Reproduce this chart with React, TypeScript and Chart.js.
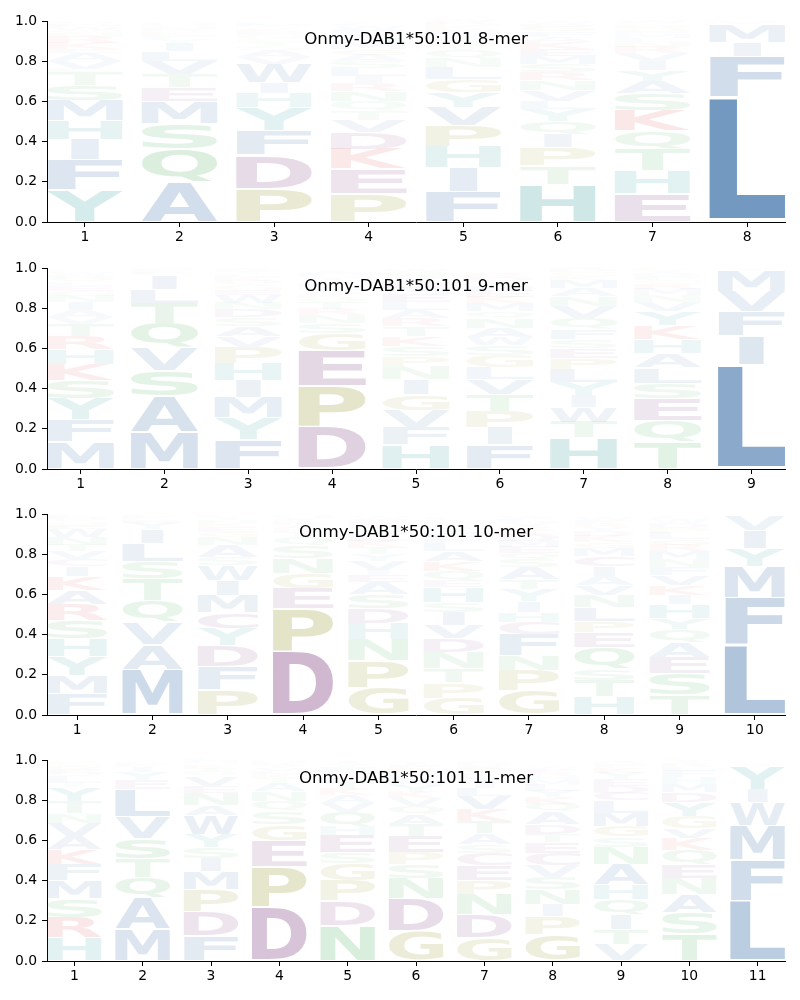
import React, { useEffect, useRef } from 'react';
import { Chart, registerables } from 'chart.js';

Chart.register(...registerables);

// ---------- data (letters listed bottom-to-top per position) ----------
const title8 = 'Onmy-DAB1*50:101 8-mer';
const letters8 = [
  'YFIHMSTLVAEKRNGWDPQC',
  'AQSMETVLIYFKRNGHDWPC',
  'PDFYHIWVASTGNEKQMLRC',
  'PEKDVTQNRILSAGMHYFWC',
  'FIHPVYGLNQTSAMEKDRW',
  'HTPIQYLVNRSMEKAFGDW',
  'EHTQKSAYIVRNLMFGDPW',
  'LFIMVY',
];
const heights8 = [
  [0.16, 0.15, 0.10, 0.095, 0.10, 0.075, 0.065, 0.015, 0.04, 0.04, 0.02, 0.03, 0.03, 0.02, 0.015, 0.015, 0.01, 0.01, 0.01, 0.005],
  [0.20, 0.163, 0.127, 0.11, 0.068, 0.068, 0.064, 0.05, 0.04, 0.02, 0.02, 0.015, 0.01, 0.01, 0.01, 0.01, 0.005, 0.005, 0.005, 0.005],
  [0.167, 0.166, 0.124, 0.112, 0.071, 0.053, 0.092, 0.035, 0.035, 0.02, 0.02, 0.02, 0.015, 0.015, 0.015, 0.01, 0.01, 0.01, 0.005, 0.005],
  [0.139, 0.125, 0.099, 0.083, 0.061, 0.045, 0.048, 0.05, 0.04, 0.035, 0.04, 0.035, 0.03, 0.03, 0.03, 0.025, 0.025, 0.02, 0.015, 0.01],
  [0.151, 0.119, 0.105, 0.104, 0.093, 0.073, 0.066, 0.059, 0.045, 0.04, 0.025, 0.025, 0.02, 0.02, 0.015, 0.015, 0.01, 0.01, 0.01],
  [0.188, 0.092, 0.09, 0.068, 0.064, 0.06, 0.04, 0.055, 0.05, 0.04, 0.04, 0.04, 0.035, 0.035, 0.025, 0.025, 0.025, 0.015, 0.01],
  [0.14, 0.114, 0.109, 0.091, 0.10, 0.084, 0.062, 0.056, 0.044, 0.04, 0.03, 0.025, 0.02, 0.02, 0.015, 0.015, 0.015, 0.01, 0.01],
  [0.62, 0.205, 0.07, 0.09, 0.01, 0.005],
];

const title9 = 'Onmy-DAB1*50:101 9-mer';
const letters9 = [
  'MFYSKHRTVAINGELQDWPC',
  'MASVQTLIEKFG',
  'FYMIHPVASDNWEGQKLTR',
  'DPEGSNRTQKAHLVYFMIW',
  'HFVGINPSKTRALEMDYQW',
  'FIPTVLGSWANQMKEHYDRC',
  'HTWIYLPESFQVNAMKGDR',
  'TQESLAHKYVNMRGFDIPW',
  'LIFVMYW',
];
const heights9 = [
  [0.135, 0.11, 0.105, 0.09, 0.08, 0.075, 0.065, 0.06, 0.035, 0.035, 0.04, 0.03, 0.025, 0.025, 0.02, 0.02, 0.015, 0.01, 0.01, 0.005],
  [0.185, 0.175, 0.13, 0.115, 0.12, 0.10, 0.07, 0.07, 0.01, 0.01, 0.01, 0.005],
  [0.148, 0.107, 0.10, 0.085, 0.085, 0.08, 0.055, 0.05, 0.045, 0.04, 0.03, 0.04, 0.025, 0.025, 0.02, 0.02, 0.015, 0.015, 0.01],
  [0.21, 0.205, 0.175, 0.085, 0.05, 0.04, 0.03, 0.03, 0.025, 0.02, 0.02, 0.02, 0.015, 0.015, 0.015, 0.01, 0.01, 0.01, 0.005],
  [0.12, 0.085, 0.085, 0.08, 0.075, 0.065, 0.05, 0.05, 0.05, 0.05, 0.04, 0.04, 0.04, 0.04, 0.03, 0.03, 0.025, 0.025, 0.01],
  [0.12, 0.085, 0.08, 0.085, 0.075, 0.06, 0.06, 0.05, 0.04, 0.045, 0.05, 0.035, 0.04, 0.03, 0.03, 0.025, 0.025, 0.02, 0.02, 0.005],
  [0.155, 0.078, 0.072, 0.06, 0.065, 0.065, 0.055, 0.05, 0.045, 0.05, 0.055, 0.06, 0.05, 0.04, 0.04, 0.02, 0.02, 0.01, 0.01],
  [0.135, 0.107, 0.108, 0.078, 0.077, 0.07, 0.07, 0.07, 0.07, 0.045, 0.035, 0.03, 0.025, 0.02, 0.02, 0.015, 0.01, 0.01, 0.005],
  [0.52, 0.145, 0.12, 0.10, 0.10, 0.01, 0.005],
];

const title10 = 'Onmy-DAB1*50:101 10-mer';
const letters10 = [
  'FMYHSRAKICVTNWEGQDLP',
  'MAVQTSLIYEKFG',
  'PFDYCMIWSANGEKHTLQ',
  'DPEGNSQTKARLVHFY',
  'GPNHDSAEIVYTKLQMRFW',
  'GPTNDVISHEQKALFMYRWC',
  'GPNFCHIYTASQEMDKRVLW',
  'HTSQEPLNVAICMGKDYRFW',
  'TSEAQYHIKVFNMRGLPDWC',
  'LFMYIVW',
];
const heights10 = [
  [0.105, 0.09, 0.095, 0.09, 0.09, 0.08, 0.07, 0.07, 0.05, 0.035, 0.04, 0.03, 0.04, 0.04, 0.02, 0.015, 0.015, 0.01, 0.01, 0.005],
  [0.225, 0.125, 0.11, 0.11, 0.11, 0.085, 0.09, 0.07, 0.03, 0.015, 0.01, 0.01, 0.01],
  [0.125, 0.117, 0.103, 0.085, 0.08, 0.085, 0.075, 0.075, 0.04, 0.06, 0.04, 0.025, 0.025, 0.02, 0.015, 0.01, 0.01, 0.005],
  [0.32, 0.21, 0.10, 0.075, 0.075, 0.065, 0.04, 0.025, 0.02, 0.015, 0.015, 0.01, 0.01, 0.01, 0.005, 0.005],
  [0.137, 0.133, 0.105, 0.08, 0.075, 0.07, 0.06, 0.035, 0.025, 0.045, 0.035, 0.035, 0.03, 0.03, 0.025, 0.02, 0.02, 0.015, 0.01],
  [0.085, 0.075, 0.07, 0.08, 0.07, 0.065, 0.065, 0.05, 0.075, 0.03, 0.05, 0.05, 0.05, 0.04, 0.03, 0.025, 0.025, 0.02, 0.015, 0.01],
  [0.122, 0.10, 0.075, 0.105, 0.06, 0.05, 0.055, 0.06, 0.05, 0.06, 0.04, 0.03, 0.03, 0.03, 0.03, 0.025, 0.02, 0.02, 0.015, 0.01],
  [0.09, 0.083, 0.057, 0.105, 0.075, 0.055, 0.07, 0.06, 0.05, 0.045, 0.05, 0.05, 0.04, 0.03, 0.03, 0.025, 0.02, 0.02, 0.015, 0.01],
  [0.10, 0.105, 0.08, 0.075, 0.065, 0.055, 0.07, 0.045, 0.05, 0.05, 0.04, 0.04, 0.04, 0.03, 0.03, 0.03, 0.025, 0.025, 0.02, 0.01],
  [0.35, 0.235, 0.155, 0.09, 0.09, 0.075, 0.005],
];

const title11 = 'Onmy-DAB1*50:101 11-mer';
const letters11 = [
  'HRSMFKAVNTYILQEDGPW',
  'MAQTSVLEYIKFGN',
  'FDPMISYWANEVQTKGHL',
  'DPEGSQNATKLVYRHFM',
  'NDPGSEHQVAKTLRMFYIW',
  'GDNSPETAQVKYHLMRFIW',
  'GDNPECSATKVLIYMQRHFW',
  'GPINSVCETDAQKYLMHRFW',
  'VTIQHANSGMLCDEYKFRP',
  'TSANEQKVGYDMHFLRIPW',
  'LFMWIYVC',
];
const heights11 = [
  [0.115, 0.10, 0.095, 0.09, 0.08, 0.075, 0.065, 0.065, 0.05, 0.06, 0.07, 0.02, 0.03, 0.02, 0.02, 0.015, 0.01, 0.01, 0.005],
  [0.16, 0.155, 0.10, 0.095, 0.10, 0.11, 0.135, 0.045, 0.04, 0.025, 0.01, 0.01, 0.005, 0.005],
  [0.125, 0.12, 0.11, 0.09, 0.065, 0.055, 0.065, 0.095, 0.05, 0.06, 0.035, 0.05, 0.02, 0.02, 0.015, 0.01, 0.01, 0.01],
  [0.27, 0.20, 0.13, 0.08, 0.065, 0.05, 0.05, 0.04, 0.025, 0.02, 0.015, 0.015, 0.01, 0.01, 0.01, 0.005, 0.005],
  [0.175, 0.125, 0.10, 0.085, 0.055, 0.085, 0.045, 0.07, 0.045, 0.04, 0.03, 0.03, 0.025, 0.02, 0.02, 0.015, 0.015, 0.01, 0.005],
  [0.15, 0.16, 0.10, 0.07, 0.06, 0.08, 0.06, 0.05, 0.04, 0.04, 0.03, 0.03, 0.025, 0.025, 0.02, 0.02, 0.015, 0.01, 0.005],
  [0.115, 0.115, 0.10, 0.07, 0.075, 0.06, 0.045, 0.055, 0.06, 0.06, 0.065, 0.04, 0.03, 0.025, 0.02, 0.02, 0.015, 0.01, 0.01, 0.005],
  [0.132, 0.09, 0.06, 0.075, 0.06, 0.06, 0.06, 0.055, 0.04, 0.05, 0.06, 0.04, 0.035, 0.03, 0.03, 0.025, 0.02, 0.02, 0.015, 0.01],
  [0.08, 0.077, 0.075, 0.075, 0.075, 0.10, 0.085, 0.05, 0.055, 0.065, 0.06, 0.04, 0.035, 0.035, 0.03, 0.025, 0.02, 0.01, 0.005],
  [0.135, 0.105, 0.09, 0.08, 0.07, 0.07, 0.06, 0.05, 0.06, 0.07, 0.05, 0.04, 0.035, 0.03, 0.02, 0.02, 0.01, 0.01, 0.005],
  [0.30, 0.205, 0.17, 0.115, 0.065, 0.115, 0.01, 0.005],
];

const yTickValues = [0, 0.2, 0.4, 0.6, 0.8, 1.0];

// ---------- styling ----------
const GROUP_COLORS: Record<string, number[]> = {
  hydrophobic: [30, 90, 155],
  acidic: [108, 36, 110],
  basic: [210, 30, 30],
  aromatic: [0, 128, 128],
  special: [128, 128, 0],
  polar: [40, 160, 60],
};
const LETTER_GROUP: Record<string, string> = {
  A: 'hydrophobic', V: 'hydrophobic', L: 'hydrophobic', I: 'hydrophobic', M: 'hydrophobic', F: 'hydrophobic', W: 'hydrophobic',
  D: 'acidic', E: 'acidic', C: 'acidic',
  K: 'basic', R: 'basic',
  H: 'aromatic', Y: 'aromatic',
  P: 'special', G: 'special',
  N: 'polar', Q: 'polar', S: 'polar', T: 'polar',
};
function letterColor(ch: string, h: number) {
  const c = GROUP_COLORS[LETTER_GROUP[ch] || 'hydrophobic'];
  const a = Math.max(0, Math.min(1, h));
  return `rgba(${c[0]},${c[1]},${c[2]},${a})`;
}

const GLYPH_FONT = 'bold 200px "DejaVu Sans"';
const VPAD = 0.05;
const metricCache: Record<string, { l: number; r: number; a: number; d: number }> = {};
function glyphMetrics(ctx: CanvasRenderingContext2D, ch: string) {
  if (!metricCache[ch]) {
    ctx.save();
    ctx.font = GLYPH_FONT;
    ctx.textAlign = 'left';
    ctx.textBaseline = 'alphabetic';
    const m = ctx.measureText(ch);
    metricCache[ch] = {
      l: m.actualBoundingBoxLeft,
      r: m.actualBoundingBoxRight,
      a: m.actualBoundingBoxAscent,
      d: m.actualBoundingBoxDescent,
    };
    ctx.restore();
  }
  return metricCache[ch];
}

function drawGlyph(ctx: CanvasRenderingContext2D, ch: string, bx: number, by: number, bw: number, bh: number, color: string) {
  if (bh <= 0.2 || bw <= 0) return;
  const m = glyphMetrics(ctx, ch);
  const e = glyphMetrics(ctx, 'E');
  const inkW = m.l + m.r;
  const inkH = m.a + m.d;
  const eW = e.l + e.r;
  const sx = Math.min(bw / inkW, bw / eW);
  const sy = bh / inkH;
  const drawnW = inkW * sx;
  ctx.save();
  ctx.translate(bx + (bw - drawnW) / 2, by);
  ctx.scale(sx, sy);
  ctx.font = GLYPH_FONT;
  ctx.textAlign = 'left';
  ctx.textBaseline = 'alphabetic';
  ctx.fillStyle = color;
  ctx.fillText(ch, m.l, m.a);
  ctx.restore();
}

const CANVAS_H = 246;

function LogoChart({ title, letters, heights, top }: { title: string; letters: string[]; heights: number[][]; top: number }) {
  const ref = useRef<HTMLCanvasElement>(null);
  useEffect(() => {
    if (!ref.current) return;
    const n = letters.length;
    const K = Math.max(...letters.map((s) => s.length));
    const datasets: any[] = [];
    for (let k = 0; k < K; k++) {
      datasets.push({
        label: 'layer ' + (k + 1),
        letters: letters.map((s) => s[k] || ''),
        data: letters.map((s, j) => ({ x: j + 1, y: heights[j][k] ?? 0 })),
        backgroundColor: (c: any) => {
          const ch = letters[c.dataIndex]?.[k] || 'A';
          const v = heights[c.dataIndex]?.[k] ?? 0;
          return letterColor(ch, v);
        },
        borderWidth: 0,
        barPercentage: 0.8,
        categoryPercentage: 1.0,
      });
    }

    const logoPlugin = {
      id: 'logoGlyphs',
      beforeDatasetDraw() {
        return false;
      },
      afterDatasetsDraw(chart: any) {
        const ctx: CanvasRenderingContext2D = chart.ctx;
        chart.data.datasets.forEach((ds: any, di: number) => {
          const meta = chart.getDatasetMeta(di);
          meta.data.forEach((bar: any, j: number) => {
            const ch = ds.letters[j];
            if (!ch) return;
            const t = Math.min(bar.y, bar.base);
            const b = Math.max(bar.y, bar.base);
            const bh = b - t;
            if (bh <= 0) return;
            const pad = (bh * VPAD) / 2;
            drawGlyph(ctx, ch, bar.x - bar.width / 2, t + pad, bar.width, bh - 2 * pad, bar.options.backgroundColor);
          });
        });
      },
      afterDraw(chart: any) {
        const ctx: CanvasRenderingContext2D = chart.ctx;
        const a = chart.chartArea;
        ctx.save();
        ctx.font = '16.67px "DejaVu Sans"';
        ctx.fillStyle = '#000';
        ctx.textAlign = 'center';
        ctx.textBaseline = 'alphabetic';
        ctx.fillText(title, (a.left + a.right) / 2, a.top + 22.5);
        ctx.restore();
      },
    };

    const tickFont = { family: '"DejaVu Sans"', size: 13.9 };
    const chart = new Chart(ref.current, {
      type: 'bar',
      data: { datasets },
      options: {
        responsive: false,
        animation: false,
        devicePixelRatio: 1,
        layout: { padding: { top: 21, right: 15, left: 0, bottom: 0 } },
        plugins: {
          legend: { display: false },
          tooltip: { enabled: false },
          title: { display: false },
        },
        scales: {
          x: {
            type: 'linear',
            stacked: true,
            min: 0.6,
            max: n + 0.4,
            offset: false,
            afterBuildTicks: (s: any) => {
              s.ticks = letters.map((_, i) => ({ value: i + 1 }));
            },
            afterFit: (s: any) => {
              s.height = CANVAS_H - 21 - 201;
            },
            grid: { display: true, offset: false, drawOnChartArea: false, drawTicks: true, tickLength: 5, color: '#000', lineWidth: 1 },
            border: { display: true, color: '#000', width: 1 },
            ticks: {
              color: '#000',
              font: tickFont,
              padding: 2,
              maxRotation: 0,
              autoSkip: false,
              callback: (v: any) => String(Math.round(Number(v))),
            },
          },
          y: {
            type: 'linear',
            stacked: true,
            min: 0,
            max: 1,
            afterBuildTicks: (s: any) => {
              s.ticks = yTickValues.map((v) => ({ value: v }));
            },
            afterFit: (s: any) => {
              s.width = 47;
            },
            grid: { display: true, drawOnChartArea: false, drawTicks: true, tickLength: 5, color: '#000', lineWidth: 1 },
            border: { display: true, color: '#000', width: 1 },
            ticks: {
              color: '#000',
              font: tickFont,
              padding: 5,
              callback: (v: any) => Number(v).toFixed(1),
            },
          },
        },
      } as any,
      plugins: [logoPlugin as any],
    });
    return () => chart.destroy();
  }, [title, letters, heights]);

  return (
    <canvas
      ref={ref}
      width={800}
      height={CANVAS_H}
      style={{ position: 'absolute', left: 0, top, width: 800, height: CANVAS_H, display: 'block' }}
    />
  );
}

export default function App() {
  return (
    <div style={{ position: 'absolute', left: 0, top: 0, width: 800, height: 1000, background: '#fff', overflow: 'hidden' }}>
      <LogoChart title={title8} letters={letters8} heights={heights8} top={0} />
      <LogoChart title={title9} letters={letters9} heights={heights9} top={247} />
      <LogoChart title={title10} letters={letters10} heights={heights10} top={493} />
      <LogoChart title={title11} letters={letters11} heights={heights11} top={739} />
    </div>
  );
}
